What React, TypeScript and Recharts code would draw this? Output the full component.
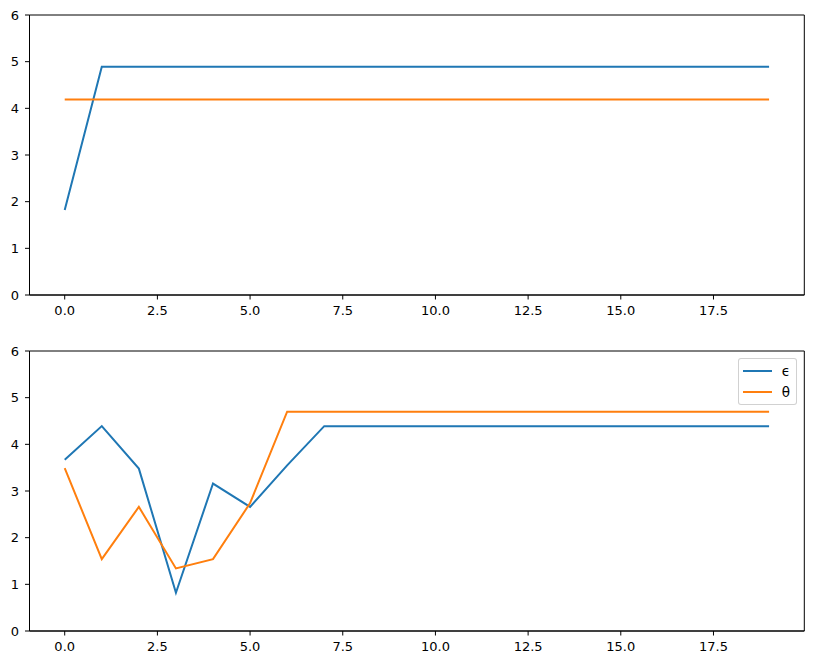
import React from 'react';
import { LineChart, Line, XAxis, YAxis, ReferenceArea, Legend } from 'recharts';

const xValues = [0, 1, 2, 3, 4, 5, 6, 7, 8, 9, 10, 11, 12, 13, 14, 15, 16, 17, 18, 19];
const xTicks = [0, 2.5, 5, 7.5, 10, 12.5, 15, 17.5];
const yTicks = [0, 1, 2, 3, 4, 5, 6];

const topEpsilon = [1.82, 4.89, 4.89, 4.89, 4.89, 4.89, 4.89, 4.89, 4.89, 4.89, 4.89, 4.89, 4.89, 4.89, 4.89, 4.89, 4.89, 4.89, 4.89, 4.89];
const topTheta = [4.19, 4.19, 4.19, 4.19, 4.19, 4.19, 4.19, 4.19, 4.19, 4.19, 4.19, 4.19, 4.19, 4.19, 4.19, 4.19, 4.19, 4.19, 4.19, 4.19];

const bottomEpsilon = [3.67, 4.39, 3.48, 0.82, 3.16, 2.66, 3.55, 4.39, 4.39, 4.39, 4.39, 4.39, 4.39, 4.39, 4.39, 4.39, 4.39, 4.39, 4.39, 4.39];
const bottomTheta = [3.49, 1.54, 2.66, 1.34, 1.54, 2.74, 4.7, 4.7, 4.7, 4.7, 4.7, 4.7, 4.7, 4.7, 4.7, 4.7, 4.7, 4.7, 4.7, 4.7];

const seriesNames = ['ϵ', 'θ'];
const BLUE = '#1f77b4';
const ORANGE = '#ff7f0e';
const FONT = 'DejaVu Sans, sans-serif';

const build = (a: number[], b: number[]) => xValues.map((x, i) => ({ x, a: a[i], b: b[i] }));
const topData = build(topEpsilon, topTheta);
const bottomData = build(bottomEpsilon, bottomTheta);

const tickStyle = { fontSize: 13, fill: '#000', fontFamily: FONT };

const LegendBox = () => (
  <div
    style={{
      background: 'rgba(255,255,255,0.8)',
      border: '1px solid rgba(204,204,204,0.9)',
      borderRadius: 3,
      padding: '2px 6px 2px 4px',
      fontFamily: FONT,
      fontSize: 13.5,
      color: '#000',
      lineHeight: '20.5px',
    }}
  >
    {seriesNames.map((n, i) => (
      <div key={n} style={{ display: 'flex', alignItems: 'center' }}>
        <div style={{ width: 29, height: 2, background: i === 0 ? BLUE : ORANGE, marginRight: 10 }} />
        <span>{n}</span>
      </div>
    ))}
  </div>
);

const Panel = ({ data, legend }: { data: any[]; legend?: boolean }) => (
  <LineChart width={813} height={330} data={data} margin={{ top: 15, right: 8.7, bottom: 0, left: 0 }}>
    <XAxis
      dataKey="x"
      type="number"
      domain={[-0.95, 19.95]}
      ticks={xTicks}
      tickFormatter={(v: number) => v.toFixed(1)}
      allowDataOverflow
      height={35}
      tickSize={4.5}
      tickMargin={6}
      tick={tickStyle}
      stroke="#000"
      interval={0}
    />
    <YAxis
      type="number"
      domain={[0, 6]}
      ticks={yTicks}
      width={29.5}
      tickSize={4.5}
      tickMargin={6}
      tick={tickStyle}
      stroke="#000"
      interval={0}
    />
    <ReferenceArea x1={-0.95} x2={19.95} y1={0} y2={6} fill="none" stroke="#000" strokeWidth={1} ifOverflow="visible" />
    <Line type="linear" dataKey="a" name={seriesNames[0]} stroke={BLUE} strokeWidth={2} dot={false} isAnimationActive={false} />
    <Line type="linear" dataKey="b" name={seriesNames[1]} stroke={ORANGE} strokeWidth={2} dot={false} isAnimationActive={false} />
    {legend && (
      <Legend
        layout="vertical"
        align="center"
        verticalAlign="middle"
        content={() => <LegendBox />}
        wrapperStyle={{ top: 22, right: 16, left: 'auto', bottom: 'auto', width: 'auto', height: 'auto' }}
      />
    )}
  </LineChart>
);

export default function App() {
  return (
    <div style={{ position: 'absolute', left: 0, top: 0, width: 813, height: 665, background: '#fff' }}>
      <div style={{ position: 'absolute', left: 0, top: 0 }}>
        <Panel data={topData} />
      </div>
      <div style={{ position: 'absolute', left: 0, top: 336 }}>
        <Panel data={bottomData} legend />
      </div>
    </div>
  );
}
